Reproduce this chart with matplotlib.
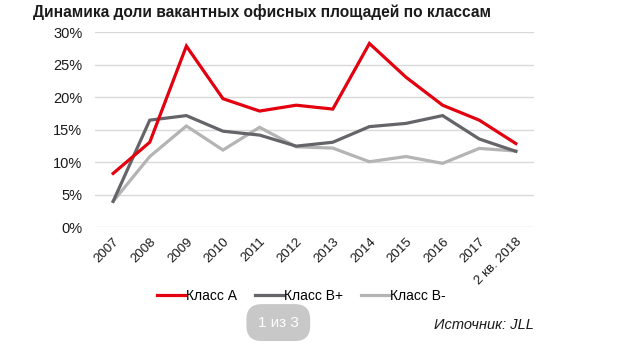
import numpy as np
import matplotlib.pyplot as plt

plt.rcParams['font.family'] = ['Liberation Sans', 'DejaVu Sans']

years = ['2007', '2008', '2009', '2010', '2011', '2012', '2013', '2014',
         '2015', '2016', '2017', '2 кв. 2018']
class_a = [8.3, 13.1, 27.9, 19.8, 17.9, 18.8, 18.2, 28.3, 23.1, 18.8, 16.5, 12.9]
class_b_plus = [4.0, 16.5, 17.2, 14.8, 14.2, 12.5, 13.1, 15.5, 16.0, 17.2, 13.6, 11.7]
class_b_minus = [4.0, 10.9, 15.6, 11.9, 15.4, 12.4, 12.2, 10.1, 10.9, 9.85, 12.15, 11.75]

colors = ['#e3000f', '#646469', '#b4b4b4']
labels = ['Класс А', 'Класс В+', 'Класс В-']

fig = plt.figure(figsize=(6.24, 3.45), dpi=100)
ax = fig.add_axes([0.152, 0.341, 0.704, 0.565])

x = np.arange(len(years))
for i, vals in enumerate([class_a, class_b_plus, class_b_minus]):
    ax.plot(x, vals, color=colors[i], lw=2.3, label=labels[i],
            solid_joinstyle='miter', zorder=3 + (2 - i))

ax.set_xlim(-0.5, len(years) - 0.5)
ax.set_ylim(0, 30)
ax.set_yticks(np.arange(0, 31, 5))
ax.set_yticklabels([f'{v}%' for v in range(0, 31, 5)])
ax.yaxis.grid(True, color='#d9d9d9', lw=1)
ax.set_axisbelow(True)
for s in ax.spines.values():
    s.set_visible(False)
ax.tick_params(axis='both', length=0, labelsize=10.5, colors='#1a1a1a')
ax.tick_params(axis='y', pad=9)
ax.set_xticks(x)
ax.set_xticklabels(years, rotation=45, ha='right', rotation_mode='anchor',
                   fontsize=9.5)
ax.tick_params(axis='x', pad=6)

fig.text(0.053, 0.965, 'Динамика доли вакантных офисных площадей по классам',
         fontsize=11.2, fontweight='bold', color='#1a1a1a', va='center')

fig.legend(loc='center', bbox_to_anchor=(0.483, 0.142), ncol=3, frameon=False,
           fontsize=10, handlelength=2.0, handletextpad=0.1, columnspacing=1.3)

fig.text(0.446, 0.065, '1 из 3', fontsize=11, color='white', ha='center', va='center',
         bbox=dict(boxstyle='round,pad=0.75,rounding_size=1.0', fc='#c8c8c8', ec='none'))
fig.text(0.855, 0.058, 'Источник: JLL', fontsize=10.5, style='italic', color='#1a1a1a',
         ha='right', va='center')

fig.savefig('out.png', dpi=100)
